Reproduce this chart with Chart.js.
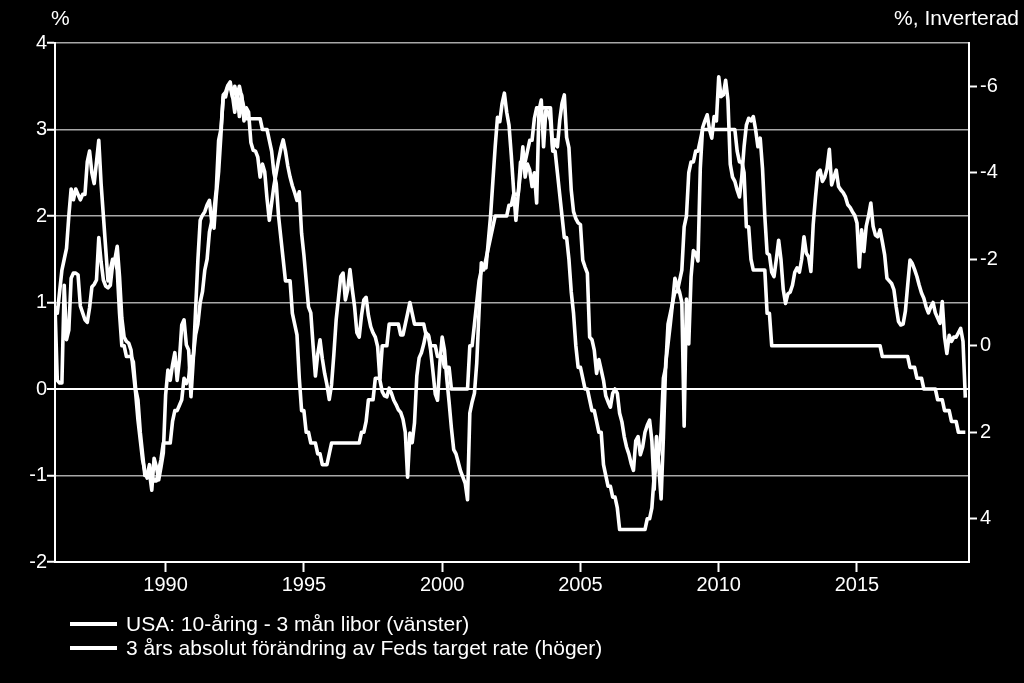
<!DOCTYPE html>
<html>
<head>
<meta charset="utf-8">
<script src="https://cdn.jsdelivr.net/npm/chart.js@4/dist/chart.umd.min.js"></script>
<style>
  html, body { margin: 0; padding: 0; background: #000; }
  canvas { display: block; }
</style>
</head>
<body>
<canvas id="c" width="1024" height="683"></canvas>
<script>
// Monthly observations, first value = January 1986
const startYear = 1986;

// USA: 10-year yield minus 3-month libor, % (left axis)
const yieldCurve = [
  0.96, 0.10, 0.07, 0.07, 1.20, 0.57, 0.68, 1.28, 1.34, 1.34, 1.32, 0.96,
  0.88, 0.80, 0.77, 0.94, 1.18, 1.21, 1.26, 1.75, 1.47, 1.26, 1.19, 1.17,
  1.20, 1.44, 1.50, 1.65, 1.30, 0.82, 0.60, 0.55, 0.53, 0.45, 0.20, -0.05,
  -0.36, -0.59, -0.82, -0.95, -1.03, -0.97, -1.17, -0.80, -0.90, -1.05, -0.90, -0.74,
  -0.07, 0.22, 0.10, 0.28, 0.42, 0.10, 0.34, 0.74, 0.80, 0.51, 0.45, -0.09,
  0.34, 0.91, 1.49, 1.95, 2.01, 2.05, 2.13, 2.18, 1.93, 1.86, 2.24, 2.51,
  2.94, 3.40, 3.43, 3.51, 3.55, 3.40, 3.20, 3.45, 3.15, 3.40, 3.10, 3.25,
  3.20, 2.85, 2.76, 2.75, 2.68, 2.45, 2.60, 2.51, 2.20, 1.95, 2.15, 2.35,
  2.50, 2.65, 2.78, 2.88, 2.75, 2.58, 2.45, 2.35, 2.27, 2.18, 2.28, 1.80,
  1.55, 1.25, 0.95, 0.88, 0.50, 0.15, 0.40, 0.57, 0.35, 0.18, 0.05, -0.12,
  0.05, 0.40, 0.80, 1.05, 1.30, 1.34, 1.03, 1.15, 1.38, 1.15, 0.95, 0.65,
  0.60, 0.85, 1.03, 1.06, 0.85, 0.72, 0.65, 0.60, 0.49, 0.10, -0.03, -0.08,
  -0.09, 0.01, -0.05, -0.13, -0.18, -0.24, -0.27, -0.35, -0.50, -1.02, -0.51, -0.62,
  -0.39, 0.15, 0.36, 0.42, 0.52, 0.65, 0.62, 0.45, 0.20, -0.06, -0.13, 0.30,
  0.60, 0.45, 0.12, -0.15, -0.45, -0.70, -0.75, -0.85, -0.95, -1.02, -1.09, -1.28,
  -0.28, -0.15, -0.05, 0.30, 0.90, 1.46, 1.42, 1.40, 1.70, 2.00, 2.40, 2.80,
  3.14, 3.09, 3.30, 3.42, 3.20, 3.05, 2.70, 2.30, 1.95, 2.26, 2.50, 2.80,
  2.45, 2.60, 2.53, 2.34, 2.50, 2.15, 3.22, 3.34, 2.80, 3.22, 3.20, 3.10,
  2.76, 2.88, 2.80, 3.10, 3.30, 3.40, 2.91, 2.79, 2.30, 2.05, 1.97, 1.92,
  1.90, 1.49, 1.41, 1.34, 0.60, 0.57, 0.45, 0.18, 0.34, 0.22, 0.10, -0.08,
  -0.15, -0.21, -0.05, 0.00, -0.05, -0.28, -0.38, -0.55, -0.67, -0.75, -0.86, -0.94,
  -0.60, -0.55, -0.76, -0.67, -0.50, -0.42, -0.36, -0.60, -1.16, -0.55, -0.90, -1.27,
  -0.55, 0.30, 0.52, 0.75, 1.00, 1.28, 1.20, 1.12, 1.00, -0.43, 1.04, 0.52,
  1.30, 1.60, 1.57, 1.48, 2.55, 3.02, 3.10, 3.17, 3.00, 2.90, 3.15, 3.10,
  3.61, 3.38, 3.40, 3.57, 3.34, 2.60, 2.45, 2.40, 2.30, 2.22, 2.45, 2.80,
  3.05, 3.13, 3.10, 3.15, 3.00, 2.80, 2.90, 2.55, 2.00, 1.57, 1.55, 1.35,
  1.30, 1.50, 1.72, 1.50, 1.15, 0.99, 1.10, 1.12, 1.20, 1.35, 1.40, 1.35,
  1.50, 1.76, 1.57, 1.53, 1.36, 1.90, 2.22, 2.50, 2.53, 2.40, 2.45, 2.55,
  2.77, 2.36, 2.45, 2.53, 2.34, 2.30, 2.27, 2.22, 2.13, 2.10, 2.05, 2.01,
  1.92, 1.41, 1.84, 1.59, 1.88, 2.00, 2.15, 1.88, 1.78, 1.76, 1.84, 1.70,
  1.55, 1.28, 1.25, 1.22, 1.15, 0.95, 0.78, 0.74, 0.75, 0.90, 1.20, 1.49,
  1.45, 1.38, 1.30, 1.20, 1.11, 1.05, 0.95, 0.88, 0.95, 1.00, 0.88, 0.82,
  0.76, 1.01, 0.60, 0.41, 0.62, 0.55, 0.60, 0.60, 0.65, 0.70, 0.55, -0.10
];

// 3-year absolute change in the Fed's target rate, %-points (right axis, inverted)
const fedChange3y = [
  -0.75, -0.75, -1.25, -1.75, -2.0, -2.25, -3.0, -3.625, -3.375, -3.625, -3.5, -3.375,
  -3.5, -3.5, -4.25, -4.5, -4.0, -3.75, -4.25, -4.75, -3.75, -3.0, -2.25, -1.5,
  -1.75, -2.0, -2.0, -1.75, -0.75, 0, 0, 0.25, 0.25, 0.25, 0.375, 1.0,
  1.25, 2.0, 2.5, 3.0, 3.0, 2.75, 3.0, 3.125, 3.125, 2.875, 2.625, 2.25,
  2.25, 2.25, 2.25, 1.75, 1.5, 1.5, 1.375, 1.25, 0.75, 0.875, 0.75, 0.25,
  0.25, -0.25, -0.5, -1.0, -1.25, -1.75, -2.0, -2.625, -2.875, -3.125, -3.625, -4.75,
  -5.0, -5.75, -5.75, -6.0, -6.0, -5.75, -6.0, -5.75, -6.0, -5.75, -5.5, -5.25,
  -5.25, -5.25, -5.25, -5.25, -5.25, -5.25, -5.0, -5.0, -5.0, -4.75, -4.5, -4.0,
  -3.75, -3.0, -2.5, -2.0, -1.5, -1.5, -1.5, -0.75, -0.5, -0.25, 0.75, 1.5,
  1.5, 2.0, 2.0, 2.25, 2.25, 2.25, 2.5, 2.5, 2.75, 2.75, 2.75, 2.5,
  2.25, 2.25, 2.25, 2.25, 2.25, 2.25, 2.25, 2.25, 2.25, 2.25, 2.25, 2.25,
  2.25, 2.0, 2.0, 1.75, 1.25, 1.25, 1.25, 0.75, 0.75, 0.75, 0, 0,
  0, -0.5, -0.5, -0.5, -0.5, -0.5, -0.25, -0.25, -0.5, -0.75, -1.0, -0.75,
  -0.5, -0.5, -0.5, -0.5, -0.5, -0.25, -0.25, 0, 0, 0, 0.25, 0.25,
  0.25, 0.5, 0.5, 0.5, 1.0, 1.0, 1.0, 1.0, 1.0, 1.0, 1.0, 1.0,
  0, 0, -0.5, -1.0, -1.5, -1.75, -1.75, -2.0, -2.25, -2.5, -2.75, -3.0,
  -3.0, -3.0, -3.0, -3.0, -3.0, -3.25, -3.25, -3.5, -3.5, -3.5, -4.25, -4.25,
  -4.25, -4.5, -4.75, -4.75, -5.25, -5.5, -5.5, -5.5, -5.5, -5.5, -5.5, -5.5,
  -4.5, -4.5, -4.0, -3.5, -3.0, -2.5, -2.5, -2.0, -1.25, -0.75, 0, 0.5,
  0.5, 0.75, 1.0, 1.0, 1.25, 1.5, 1.5, 1.75, 2.0, 2.0, 2.75, 3.0,
  3.25, 3.25, 3.5, 3.5, 3.75, 4.25, 4.25, 4.25, 4.25, 4.25, 4.25, 4.25,
  4.25, 4.25, 4.25, 4.25, 4.25, 4.0, 4.0, 3.75, 3.0, 2.75, 2.5, 2.0,
  0.75, 0.5, -0.5, -0.75, -1.0, -1.25, -1.25, -1.5, -1.75, -2.75, -3.0, -4.0,
  -4.25, -4.25, -4.5, -4.5, -4.75, -5.0, -5.0, -5.0, -5.0, -5.0, -5.0, -5.0,
  -5.0, -5.0, -5.0, -5.0, -5.0, -5.0, -5.0, -5.0, -4.5, -4.25, -4.25, -4.0,
  -2.75, -2.75, -2.0, -1.75, -1.75, -1.75, -1.75, -1.75, -1.75, -0.75, -0.75, 0,
  0, 0, 0, 0, 0, 0, 0, 0, 0, 0, 0, 0,
  0, 0, 0, 0, 0, 0, 0, 0, 0, 0, 0, 0,
  0, 0, 0, 0, 0, 0, 0, 0, 0, 0, 0, 0,
  0, 0, 0, 0, 0, 0, 0, 0, 0, 0, 0, 0.25,
  0.25, 0.25, 0.25, 0.25, 0.25, 0.25, 0.25, 0.25, 0.25, 0.25, 0.25, 0.5,
  0.5, 0.5, 0.75, 0.75, 0.75, 1.0, 1.0, 1.0, 1.0, 1.0, 1.0, 1.25,
  1.25, 1.25, 1.5, 1.5, 1.5, 1.75, 1.75, 1.75, 2.0, 2.0, 2.0, 2.0
];

const yearTicks = [1990, 1995, 2000, 2005, 2010, 2015];
const leftTicks = [-2, -1, 0, 1, 2, 3, 4];
const rightTicks = [-6, -4, -2, 0, 2, 4];
const seriesNames = [
  "USA: 10-åring - 3 mån libor (vänster)",
  "3 års absolut förändring av Feds target rate (höger)"
];
const leftTitle = "%";
const rightTitle = "%, Inverterad";

const FONT = "'Liberation Sans', Arial, Helvetica, sans-serif";
const toPoints = arr => arr.map((v, i) => ({ x: startYear + i / 12, y: v }));

const textPlugin = {
  id: 'texts',
  afterDraw(chart) {
    const c = chart.ctx;
    c.save();
    c.fillStyle = '#fff';
    c.font = '21px ' + FONT;
    c.textBaseline = 'middle';
    c.textAlign = 'left';
    c.fillText(leftTitle, 51, 19);
    c.textAlign = 'right';
    c.fillText(rightTitle, 1019, 19);
    c.textAlign = 'left';
    c.strokeStyle = '#fff';
    c.lineWidth = 4;
    seriesNames.forEach((t, i) => {
      const y = 624 + i * 24;
      c.beginPath();
      c.moveTo(70, y);
      c.lineTo(117, y);
      c.stroke();
      c.fillText(t, 126, y + 1);
    });
    c.restore();
  }
};

new Chart(document.getElementById('c'), {
  type: 'line',
  data: {
    datasets: [
      {
        label: seriesNames[0],
        data: toPoints(yieldCurve),
        yAxisID: 'yL',
        borderColor: '#ffffff',
        borderWidth: 3.6,
        pointRadius: 0,
        tension: 0,
        borderJoinStyle: 'round'
      },
      {
        label: seriesNames[1],
        data: toPoints(fedChange3y),
        yAxisID: 'yR',
        borderColor: '#ffffff',
        borderWidth: 3.6,
        pointRadius: 0,
        tension: 0,
        borderJoinStyle: 'round'
      }
    ]
  },
  options: {
    responsive: false,
    animation: false,
    devicePixelRatio: 1,
    layout: { padding: { top: 43, left: 0, right: 0, bottom: 0 } },
    plugins: { legend: { display: false }, tooltip: { enabled: false } },
    scales: {
      x: {
        type: 'linear',
        min: 1986,
        max: 2019.05,
        afterBuildTicks: s => { s.ticks = yearTicks.map(v => ({ value: v })); },
        afterFit: s => { s.height = 121; },
        grid: { drawOnChartArea: false, drawTicks: true, tickLength: 10, tickColor: '#fff', tickWidth: 2 },
        border: { color: '#fff', width: 2 },
        ticks: { color: '#fff', font: { family: FONT, size: 20 }, padding: 1, maxRotation: 0, autoSkip: false,
                 callback: v => String(v) }
      },
      yL: {
        position: 'left',
        min: -2,
        max: 4,
        afterBuildTicks: s => { s.ticks = leftTicks.map(v => ({ value: v })); },
        afterFit: s => { s.width = 55; },
        grid: {
          color: ctx => (ctx.tick && ctx.tick.value === 0) ? '#ffffff' : '#a8a8a8',
          lineWidth: ctx => (ctx.tick && ctx.tick.value === 0) ? 2 : 1.5,
          drawTicks: true, tickLength: 8, tickColor: '#fff', tickWidth: 2
        },
        border: { color: '#fff', width: 2 },
        ticks: { color: '#fff', font: { family: FONT, size: 20 }, padding: 0, callback: v => String(v) }
      },
      yR: {
        position: 'right',
        reverse: true,
        min: -7,
        max: 5,
        afterBuildTicks: s => { s.ticks = rightTicks.map(v => ({ value: v })); },
        afterFit: s => { s.width = 55; },
        grid: { drawOnChartArea: false, drawTicks: true, tickLength: 8, tickColor: '#fff', tickWidth: 2 },
        border: { color: '#fff', width: 2 },
        ticks: { color: '#fff', font: { family: FONT, size: 20 }, padding: 3, callback: v => String(v) }
      }
    }
  },
  plugins: [textPlugin]
});
</script>
</body>
</html>
